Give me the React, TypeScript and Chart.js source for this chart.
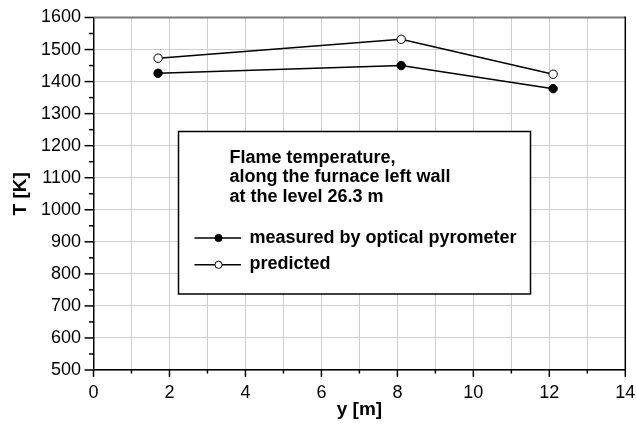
import React, { useEffect, useRef } from 'react';
import { Chart, registerables } from 'chart.js';

Chart.register(...registerables);

// ---- data ----
const positions = [1.7, 8.1, 12.1];
const measured = [1426, 1450, 1378];
const predicted = [1473, 1532, 1423];
const seriesLabels = ['measured by optical pyrometer', 'predicted'];
const noteLines = ['Flame temperature,', 'along the furnace left wall', 'at the level 26.3 m'];
const xTitle = 'y [m]';
const yTitle = 'T [K]';
const xRange = [0, 14];
const yRange = [500, 1600];

const FONT = '"Liberation Sans", Arial, Helvetica, sans-serif';

const decorPlugin = {
  id: 'decor',
  afterDraw(chart: any) {
    const { ctx, chartArea: a } = chart;
    const xs = chart.scales.x;
    const ys = chart.scales.y;
    ctx.save();
    // top and right frame
    ctx.lineCap = 'butt';
    ctx.strokeStyle = '#777';
    ctx.lineWidth = 2;
    ctx.beginPath();
    ctx.moveTo(a.left, a.top);
    ctx.lineTo(a.right, a.top);
    ctx.stroke();
    ctx.strokeStyle = '#000';
    ctx.lineWidth = 1.5;
    ctx.beginPath();
    ctx.moveTo(a.right, a.top - 1);
    ctx.lineTo(a.right, a.bottom);
    ctx.stroke();
    // tick marks (major + minor)
    ctx.strokeStyle = '#000';
    ctx.lineWidth = 1.5;
    xs.ticks.forEach((t: any) => {
      const px = xs.getPixelForValue(t.value);
      const len = t.value % 2 === 0 ? 7 : 3.5;
      ctx.beginPath();
      ctx.moveTo(px, a.bottom);
      ctx.lineTo(px, a.bottom + len);
      ctx.stroke();
    });
    ys.ticks.forEach((t: any) => {
      const py = ys.getPixelForValue(t.value);
      const len = t.value % 100 === 0 ? 9 : 4.5;
      ctx.beginPath();
      ctx.moveTo(a.left - len, py);
      ctx.lineTo(a.left, py);
      ctx.stroke();
    });

    // annotation / legend box
    const bl = a.left + 85;
    const bt = a.top + 114;
    const bw = 352;
    const bh = 162.5;
    ctx.fillStyle = '#fff';
    ctx.fillRect(bl, bt, bw, bh);
    ctx.strokeStyle = '#000';
    ctx.lineWidth = 1.5;
    ctx.strokeRect(bl, bt, bw, bh);

    ctx.fillStyle = '#000';
    ctx.font = `bold 18px ${FONT}`;
    ctx.textAlign = 'left';
    ctx.textBaseline = 'alphabetic';
    noteLines.forEach((line, i) => {
      ctx.fillText(line, bl + 51, bt + 31 + i * 19.8);
    });

    const rows = [
      { marker: bt + 106.5, base: bt + 111.3 },
      { marker: bt + 133.3, base: bt + 137.8 },
    ];
    chart.data.datasets.forEach((ds: any, i: number) => {
      const r = rows[i];
      ctx.strokeStyle = '#000';
      ctx.lineWidth = 1.5;
      ctx.beginPath();
      ctx.moveTo(bl + 16, r.marker);
      ctx.lineTo(bl + 62.5, r.marker);
      ctx.stroke();
      ctx.beginPath();
      ctx.arc(bl + 40, r.marker, 3.6, 0, Math.PI * 2);
      ctx.fillStyle = ds.pointBackgroundColor;
      ctx.fill();
      ctx.lineWidth = 1;
      ctx.stroke();
      ctx.fillStyle = '#000';
      ctx.fillText(ds.label, bl + 71, r.base);
    });
    ctx.restore();
  },
};

export default function App() {
  const ref = useRef<HTMLCanvasElement | null>(null);
  useEffect(() => {
    if (!ref.current) return;
    const chart = new Chart(ref.current, {
      type: 'scatter',
      data: {
        datasets: [
          {
            label: seriesLabels[0],
            data: positions.map((x, i) => ({ x, y: measured[i] })),
            showLine: true,
            borderColor: '#000',
            borderWidth: 1.5,
            pointRadius: 4.2,
            pointBackgroundColor: '#000',
            pointBorderColor: '#000',
            pointBorderWidth: 1,
          },
          {
            label: seriesLabels[1],
            data: positions.map((x, i) => ({ x, y: predicted[i] })),
            showLine: true,
            borderColor: '#000',
            borderWidth: 1.5,
            pointRadius: 4.2,
            pointBackgroundColor: '#fff',
            pointBorderColor: '#000',
            pointBorderWidth: 1,
          },
        ],
      },
      options: {
        animation: false,
        responsive: false,
        devicePixelRatio: 1,
        layout: { padding: { left: 0, right: 10.7, top: 17.5, bottom: 0 } },
        plugins: { legend: { display: false }, tooltip: { enabled: false } },
        scales: {
          x: {
            type: 'linear',
            min: xRange[0],
            max: xRange[1],
            afterFit: (s: any) => {
              s.height = 60;
              s.paddingLeft = 0;
              s.paddingRight = 0;
            },
            ticks: {
              stepSize: 1,
              autoSkip: false,
              maxRotation: 0,
              padding: 12,
              color: '#000',
              font: { family: FONT, size: 18 },
              callback: (v: any) => (Number(v) % 2 === 0 ? String(v) : ''),
            },
            grid: { color: '#cfcfcf', lineWidth: 1, drawTicks: false },
            border: { color: '#000', width: 1.5 },
            title: {
              display: true,
              text: xTitle,
              color: '#000',
              font: { family: FONT, size: 19, weight: 'bold' },
              padding: { top: 0, bottom: 9 },
            },
          },
          y: {
            type: 'linear',
            min: yRange[0],
            max: yRange[1],
            afterFit: (s: any) => {
              s.width = 93.5;
              s.paddingTop = 0;
              s.paddingBottom = 0;
            },
            ticks: {
              stepSize: 50,
              autoSkip: false,
              padding: 12.5,
              color: '#000',
              font: { family: FONT, size: 18 },
              callback: (v: any) => (Number(v) % 100 === 0 ? String(v) : ''),
            },
            grid: {
              color: (c: any) => (c.tick && c.tick.value % 100 === 0 ? '#cfcfcf' : 'rgba(0,0,0,0)'),
              lineWidth: 1,
              drawTicks: false,
            },
            border: { color: '#000', width: 1.5 },
            title: {
              display: true,
              text: yTitle,
              color: '#000',
              font: { family: FONT, size: 19, weight: 'bold' },
              padding: { top: 9, bottom: 0 },
            },
          },
        },
      },
      plugins: [decorPlugin],
    } as any);
    return () => chart.destroy();
  }, []);
  return (
    <div style={{ position: 'absolute', left: 0, top: 0, width: 636, height: 430, background: '#fff' }}>
      <canvas ref={ref} width={636} height={430} style={{ display: 'block' }} />
    </div>
  );
}
